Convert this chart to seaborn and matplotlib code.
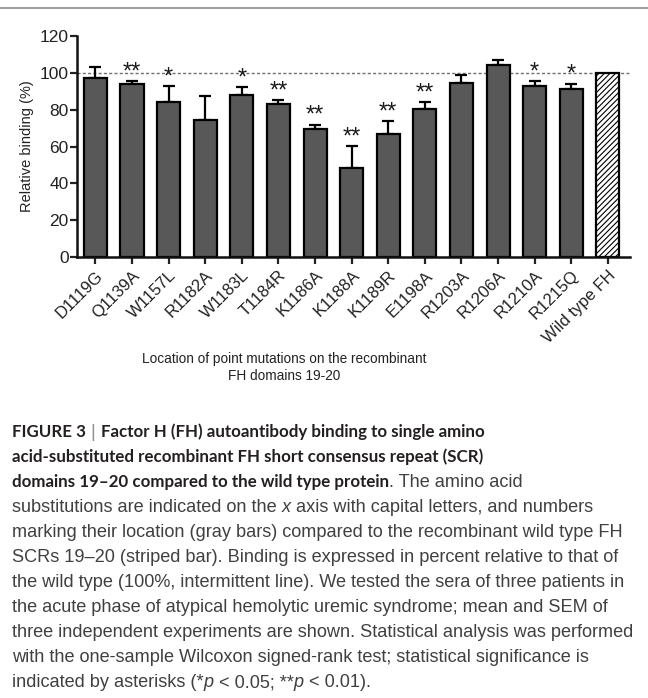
import matplotlib
matplotlib.use("Agg")
import matplotlib.pyplot as plt
import seaborn as sns
import pandas as pd
import numpy as np
from matplotlib.lines import Line2D

# ---------------- data ----------------
mutations = ["D1119G", "Q1139A", "W1157L", "R1182A", "W1183L", "T1184R", "K1186A",
             "K1188A", "K1189R", "E1198A", "R1203A", "R1206A", "R1210A", "R1215Q",
             "Wild type FH"]
binding = [97.3, 93.8, 84.5, 74.4, 88.0, 83.4, 69.3, 48.5, 66.6, 80.2, 94.8, 104.2,
           93.0, 91.2, 100.0]
sem = [6.1, 1.7, 8.5, 13.0, 4.5, 1.8, 2.7, 11.8, 7.4, 3.8, 4.0, 3.1, 2.5, 3.1, 0.0]
significance = ["", "**", "*", "", "*", "**", "**", "**", "**", "**", "", "", "*", "*", ""]

xlabel_text = "Location of point mutations on the recombinant\nFH domains 19-20"
ylabel_text = "Relative binding (%)"
yticks = [0, 20, 40, 60, 80, 100, 120]
reference_level = 100

# ---------------- figure ----------------
sns.set_theme(style="ticks")
plt.rcParams["font.family"] = ["Liberation Sans", "DejaVu Sans"]
plt.rcParams["hatch.linewidth"] = 0.8

fig = plt.figure(figsize=(6.48, 6.98), dpi=100)
ax = fig.add_axes([0.119, 0.632, 0.853, 0.316])

df = pd.DataFrame({"mutation": mutations, "binding": binding})
sns.barplot(data=df, x="mutation", y="binding", ax=ax, color="#585858",
            width=0.63, edgecolor="black", linewidth=1.6, saturation=1)

patches = ax.patches
wt = patches[-1]
wt.set_facecolor("white")
wt.set_hatch("//////")
wt.set_edgecolor("black")

xs = np.arange(len(mutations))
err_low = np.zeros(len(sem))
ax.errorbar(xs[:-1], binding[:-1], yerr=[err_low[:-1], sem[:-1]], fmt="none",
            ecolor="black", elinewidth=1.6, capsize=4.5, capthick=1.6, zorder=1)
for p in patches:
    p.set_zorder(2)

for x, b, s, sig in zip(xs, binding, sem, significance):
    if sig:
        ax.annotate(sig, (x, b + s), xytext=(0, 2), textcoords="offset points",
                    ha="center", va="baseline", fontsize=17, color="#1a1a1a")

ax.axhline(reference_level, color="#707070", lw=1.0, ls=(0, (2.2, 1.6)), zorder=0)

ax.set_ylim(0, 120)
ax.set_xlim(-0.5, 14.6)
ax.set_yticks(yticks)
ax.tick_params(axis="y", labelsize=12.5, width=1.6, length=5, pad=1, colors="#222222")
ax.tick_params(axis="x", labelsize=12, width=1.6, length=5, pad=3, colors="#222222")
plt.setp(ax.get_xticklabels(), rotation=45, ha="right", rotation_mode="anchor")
for sp in ["top", "right"]:
    ax.spines[sp].set_visible(False)
for sp in ["left", "bottom"]:
    ax.spines[sp].set_linewidth(1.8)
    ax.spines[sp].set_color("#111111")
ax.set_xlabel("")
ax.set_ylabel(ylabel_text, fontsize=10.5, color="#222222", labelpad=4)

renderer = fig.canvas.get_renderer()


def text_width(s, size, **kw):
    t = fig.text(0, 0, s, fontsize=size, **kw)
    w = t.get_window_extent(renderer=renderer).width
    t.remove()
    return w


fig.text(0.438, 0.474, xlabel_text, ha="center", va="center", fontsize=9.8,
         color="#222222", linespacing=1.25)

# top rule
fig.add_artist(Line2D([0, 1], [1 - 8 / 698, 1 - 8 / 698], color="#a0a0a0", lw=1.5,
                      transform=fig.transFigure))

# ---------------- caption ----------------
BOLD_C = "#231f20"
REG_C = "#404040"
REG_FAM = ["Liberation Sans", "DejaVu Sans"]
BOLD_FAM = ["Lato", "Liberation Sans", "DejaVu Sans"]
FS_R = 10 * 622 / text_width(
    "three independent experiments are shown. Statistical analysis was performed", 10,
    family=REG_FAM)
FS_B = 10 * 448 / text_width(
    "acid-substituted recombinant FH short consensus repeat (SCR)", 10,
    family=BOLD_FAM, fontweight="bold")
FS_B = max(FS_B, 12.2)

space_w = text_width("a a", FS_R, family=REG_FAM) - text_width("aa", FS_R, family=REG_FAM)


def rich_line(y_px, parts, x_px=12):
    x = x_px
    for txt, kind in parts:
        kw = {"family": REG_FAM}
        color = REG_C
        size = FS_R
        if kind == "b":
            kw = {"family": BOLD_FAM, "fontweight": "bold"}
            color = BOLD_C
            size = FS_B
        elif kind == "i":
            kw["fontstyle"] = "italic"
        elif kind == "sep":
            color = "#909090"
        lead = len(txt) - len(txt.lstrip(" "))
        trail = len(txt) - len(txt.rstrip(" "))
        x += lead * space_w
        core = txt.strip(" ")
        t = fig.text(x / 648, 1 - y_px / 698, core, fontsize=size, color=color,
                     va="baseline", ha="left", **kw)
        bb = t.get_window_extent(renderer=renderer)
        x = bb.x1 + trail * space_w


caption = [
    [("FIGURE 3 ", "b"), ("| ", "sep"), ("Factor H (FH) autoantibody binding to single amino", "b")],
    [("acid-substituted recombinant FH short consensus repeat (SCR)", "b")],
    [("domains 19\u201320 compared to the wild type protein", "b"), (". The amino acid", "r")],
    [("substitutions are indicated on the ", "r"), ("x", "i"), (" axis with capital letters, and numbers", "r")],
    [("marking their location (gray bars) compared to the recombinant wild type FH", "r")],
    [("SCRs 19\u201320 (striped bar). Binding is expressed in percent relative to that of", "r")],
    [("the wild type (100%, intermittent line). We tested the sera of three patients in", "r")],
    [("the acute phase of atypical hemolytic uremic syndrome; mean and SEM of", "r")],
    [("three independent experiments are shown. Statistical analysis was performed", "r")],
    [("with the one-sample Wilcoxon signed-rank test; statistical significance is", "r")],
    [("indicated by asterisks (*", "r"), ("p", "i"), (" < 0.05; **", "r"), ("p", "i"), (" < 0.01).", "r")],
]
for i, parts in enumerate(caption):
    rich_line(437 + 25 * i, parts)

fig.savefig("out.png", dpi=100)
